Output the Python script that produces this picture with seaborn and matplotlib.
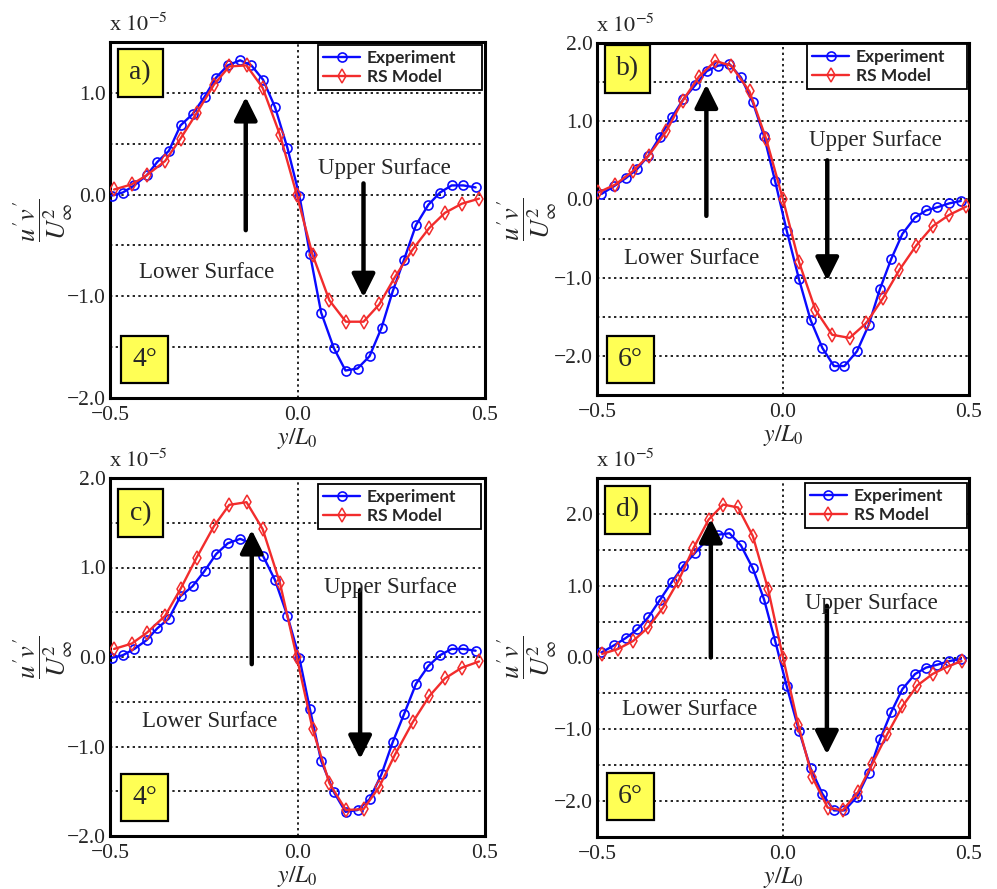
import matplotlib
matplotlib.use("Agg")
import matplotlib.pyplot as plt
from matplotlib.ticker import MultipleLocator, FixedLocator, FuncFormatter
from matplotlib.patches import Rectangle
import seaborn as sns
import pandas as pd

# ---- measured / modelled Reynolds shear stress (units of 1e-5) ----
exp_4deg_x = [-0.496, -0.466, -0.435, -0.402, -0.374, -0.343, -0.312, -0.280, -0.248, -0.217,
              -0.186, -0.153, -0.123, -0.092, -0.060, -0.027, 0.005, 0.033, 0.063, 0.097,
              0.128, 0.160, 0.192, 0.224, 0.254, 0.284, 0.316, 0.349, 0.380, 0.411, 0.442, 0.475]
exp_4deg_y = [-0.01, 0.02, 0.09, 0.19, 0.32, 0.43, 0.68, 0.79, 0.96, 1.15,
              1.27, 1.32, 1.27, 1.13, 0.86, 0.46, -0.01, -0.58, -1.16, -1.51,
              -1.73, -1.71, -1.59, -1.31, -0.95, -0.64, -0.30, -0.10, 0.02, 0.09, 0.09, 0.07]

exp_6deg_x = [-0.488, -0.454, -0.423, -0.392, -0.362, -0.331, -0.299, -0.268, -0.236, -0.205,
              -0.175, -0.144, -0.113, -0.081, -0.051, -0.021, 0.010, 0.043, 0.074, 0.106,
              0.137, 0.165, 0.199, 0.230, 0.261, 0.291, 0.321, 0.355, 0.385, 0.415, 0.447, 0.478]
exp_6deg_y = [0.07, 0.17, 0.27, 0.39, 0.56, 0.80, 1.05, 1.28, 1.46, 1.64,
              1.71, 1.73, 1.56, 1.24, 0.81, 0.23, -0.40, -1.02, -1.54, -1.90,
              -2.13, -2.13, -1.94, -1.61, -1.14, -0.76, -0.44, -0.23, -0.14, -0.10, -0.05, -0.02]

rs_a_x = [-0.489, -0.442, -0.402, -0.353, -0.312, -0.269, -0.223, -0.182, -0.136, -0.093, -0.047,
          -0.002, 0.040, 0.085, 0.129, 0.176, 0.218, 0.260, 0.307, 0.351, 0.393, 0.438, 0.484]
rs_a_y = [0.05, 0.10, 0.19, 0.33, 0.55, 0.80, 1.08, 1.26, 1.27, 1.05, 0.59,
          0.00, -0.59, -1.04, -1.25, -1.25, -1.08, -0.81, -0.54, -0.33, -0.18, -0.09, -0.04]

rs_b_x = [-0.496, -0.451, -0.404, -0.361, -0.314, -0.270, -0.226, -0.182, -0.139, -0.090, -0.045,
          0.000, 0.043, 0.087, 0.132, 0.179, 0.224, 0.269, 0.313, 0.358, 0.403, 0.446, 0.493]
rs_b_y = [0.09, 0.19, 0.36, 0.56, 0.87, 1.26, 1.57, 1.77, 1.71, 1.38, 0.77,
          0.00, -0.80, -1.41, -1.73, -1.77, -1.58, -1.26, -0.90, -0.59, -0.34, -0.20, -0.09]

rs_c_x = rs_a_x
rs_c_y = [0.09, 0.15, 0.27, 0.46, 0.76, 1.11, 1.46, 1.70, 1.73, 1.43, 0.83,
          0.00, -0.80, -1.41, -1.71, -1.70, -1.45, -1.09, -0.73, -0.44, -0.24, -0.12, -0.05]

rs_d_x = [-0.486, -0.443, -0.403, -0.362, -0.322, -0.281, -0.241, -0.200, -0.161, -0.121, -0.081,
          -0.040, 0.000, 0.041, 0.079, 0.120, 0.160, 0.201, 0.239, 0.280, 0.321, 0.361, 0.402,
          0.441, 0.480]
rs_d_y = [0.05, 0.12, 0.23, 0.42, 0.70, 1.07, 1.52, 1.92, 2.13, 2.09, 1.69,
          0.95, 0.00, -0.94, -1.67, -2.09, -2.13, -1.88, -1.49, -1.07, -0.68, -0.39, -0.23,
          -0.13, -0.05]

panel_tags = ["a)", "b)", "c)", "d)"]
angle_tags = ["4\u00b0", "6\u00b0", "4\u00b0", "6\u00b0"]
series_names = ["Experiment", "RS Model"]
x_ticks = [-0.5, 0.0, 0.5]

# ---- styling ----
sns.set_style("white")
plt.rcParams["font.family"] = ["Liberation Serif", "DejaVu Serif"]
plt.rcParams["mathtext.fontset"] = "stix"
plt.rcParams["axes.unicode_minus"] = True

BLUE = "#0a0aff"
RED = "#f22c2c"
YELLOW = "#ffff55"
W, H = 997, 889

fig = plt.figure(figsize=(W / 100, H / 100), dpi=100)

# axes rectangles in pixels: left, top, right, bottom
boxes_px = [(110, 42, 485, 398), (597, 43, 969, 395), (110, 478, 485, 836), (597, 478, 969, 837)]
ylabel_cx = [-0.178, -0.186, -0.178, -0.186]

panels = [
    dict(ex=exp_4deg_x, ey=exp_4deg_y, mx=rs_a_x, my=rs_a_y, ylim=(-2.0, 1.5),
         up=(-0.138, -0.35, 0.96), down=(0.176, 0.11, -1.01),
         upper_txt=(0.231, 0.26), lower_txt=(-0.243, -0.765),
         tag=(0.080, 0.914), ang=(0.092, 0.107), leg=(0.555, 0.992, 0.992)),
    dict(ex=exp_6deg_x, ey=exp_6deg_y, mx=rs_b_x, my=rs_b_y, ylim=(-2.5, 2.0),
         up=(-0.206, -0.21, 1.47), down=(0.119, 0.50, -1.04),
         upper_txt=(0.247, 0.748), lower_txt=(-0.245, -0.756),
         tag=(0.083, 0.926), ang=(0.089, 0.100), leg=(0.565, 0.995, 0.997)),
    dict(ex=exp_4deg_x, ey=exp_4deg_y, mx=rs_c_x, my=rs_c_y, ylim=(-2.0, 2.0),
         up=(-0.122, -0.08, 1.42), down=(0.167, 0.75, -1.14),
         upper_txt=(0.247, 0.773), lower_txt=(-0.235, -0.725),
         tag=(0.081, 0.901), ang=(0.092, 0.107), leg=(0.555, 0.989, 0.983)),
    dict(ex=exp_6deg_x, ey=exp_6deg_y, mx=rs_d_x, my=rs_d_y, ylim=(-2.5, 2.5),
         up=(-0.194, 0.0, 1.93), down=(0.118, 0.72, -1.35),
         upper_txt=(0.237, 0.758), lower_txt=(-0.252, -0.73),
         tag=(0.083, 0.911), ang=(0.089, 0.113), leg=(0.559, 0.995, 0.986)),
]


def fmt(v, _):
    s = f"{v:.1f}"
    if s == "-0.0":
        s = "0.0"
    return s.replace("-", "\u2212")


def label_box(ax, cx, cy, text, wpx, hpx, axw, axh):
    w, h = wpx / axw, hpx / axh
    ax.add_patch(Rectangle((cx - w / 2, cy - h / 2), w, h, transform=ax.transAxes,
                           facecolor=YELLOW, edgecolor="black", lw=1.6, zorder=6,
                           clip_on=False))
    ax.text(cx, cy, text, transform=ax.transAxes, ha="center", va="center",
            fontsize=20, zorder=7)


for i, p in enumerate(panels):
    l, t, r, b = boxes_px[i]
    axw, axh = r - l, b - t
    ax = fig.add_axes([l / W, 1 - b / H, axw / W, axh / H])

    df_exp = pd.DataFrame({"x": p["ex"], "y": p["ey"]})
    df_rs = pd.DataFrame({"x": p["mx"], "y": p["my"]})
    sns.lineplot(data=df_exp, x="x", y="y", ax=ax, color=BLUE, lw=1.7, marker="o",
                 markersize=6.5, markerfacecolor="none", markeredgecolor=BLUE,
                 markeredgewidth=1.2, label=series_names[0], zorder=4)
    sns.lineplot(data=df_rs, x="x", y="y", ax=ax, color=RED, lw=1.7, marker="d",
                 markersize=7.5, markerfacecolor="none", markeredgecolor=RED,
                 markeredgewidth=1.1, label=series_names[1], zorder=5)

    ax.set_xlim(-0.5, 0.5)
    ax.set_ylim(*p["ylim"])
    ax.xaxis.set_major_locator(FixedLocator(x_ticks))
    ax.yaxis.set_major_locator(MultipleLocator(1.0))
    ax.yaxis.set_minor_locator(MultipleLocator(0.5))
    ax.xaxis.set_major_formatter(FuncFormatter(fmt))
    ax.yaxis.set_major_formatter(FuncFormatter(fmt))
    ax.tick_params(axis="both", which="both", length=0, labelsize=15.5)
    ax.tick_params(axis="x", pad=6)
    ax.tick_params(axis="y", pad=3)

    grid_kw = dict(color="black", linestyle=(0, (1.4, 2.0)), lw=1.2)
    ax.xaxis.grid(True, which="major", **grid_kw)
    ax.yaxis.grid(True, which="both", **grid_kw)
    ax.set_axisbelow(True)
    for sp in ax.spines.values():
        sp.set_visible(True)
        sp.set_color("black")
        sp.set_linewidth(2.2)

    ax.set_xlabel(r"$y/L_0$", fontsize=17, labelpad=0.5)
    ax.set_ylabel(r"$\dfrac{u^{\prime}v^{\prime}}{U_{\infty}^{2}}$", fontsize=19)
    ax.yaxis.label.set_verticalalignment("center")
    ax.yaxis.set_label_coords(ylabel_cx[i], 0.5)

    ax.text(-0.003, 1.018, r"x $10^{-5}$", transform=ax.transAxes, ha="left", va="bottom",
            fontsize=16)

    # arrows and region labels
    ux, uy0, uy1 = p["up"]
    ax.annotate("", xy=(ux, uy1), xytext=(ux, uy0),
                arrowprops=dict(arrowstyle="-|>,head_length=0.7,head_width=0.35",
                                lw=3.2, color="black", shrinkA=0, shrinkB=0,
                                mutation_scale=20), zorder=8)
    dx, dy0, dy1 = p["down"]
    ax.annotate("", xy=(dx, dy1), xytext=(dx, dy0),
                arrowprops=dict(arrowstyle="-|>,head_length=0.7,head_width=0.35",
                                lw=3.2, color="black", shrinkA=0, shrinkB=0,
                                mutation_scale=20), zorder=8)
    ax.text(*p["upper_txt"], "Upper Surface", ha="center", va="center", fontsize=16.5,
            zorder=9)
    ax.text(*p["lower_txt"], "Lower Surface", ha="center", va="center", fontsize=16.5,
            zorder=9)

    label_box(ax, *p["tag"], panel_tags[i], 45, 48, axw, axh)
    label_box(ax, *p["ang"], angle_tags[i], 47, 47, axw, axh)

    x0, x1, top = p["leg"]
    leg = ax.legend(loc="upper left", bbox_to_anchor=(x0, 0.5, x1 - x0, top - 0.5),
                    mode="expand", borderaxespad=0, frameon=True, fancybox=False,
                    edgecolor="black", framealpha=1, handlelength=2.1,
                    handletextpad=0.4, borderpad=0.3, labelspacing=0.15,
                    prop=dict(family="Lato", weight="bold", size=12.5))
    leg.get_frame().set_linewidth(1.3)
    leg.set_zorder(10)

fig.savefig("out.png", dpi=100, facecolor="white")
